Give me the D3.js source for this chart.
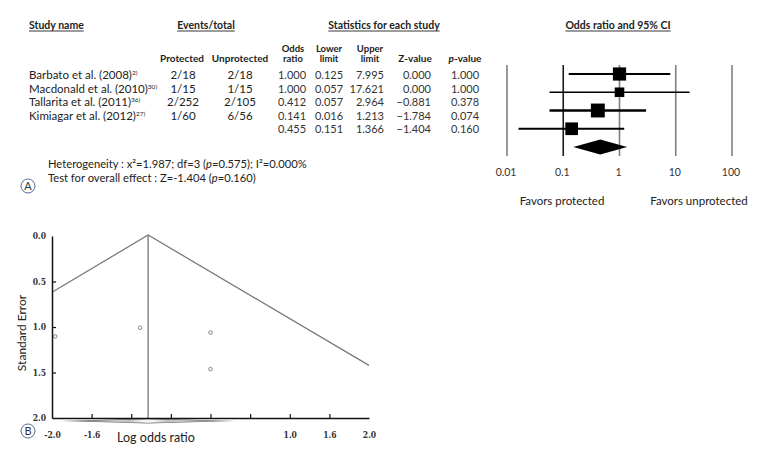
<!DOCTYPE html>
<html><head><meta charset="utf-8">
<script src="https://cdn.jsdelivr.net/npm/d3@7"></script>
<style>
body{margin:0;background:#fff;}
svg{display:block;font-family:Lato,"Open Sans",sans-serif;}
</style></head>
<body><svg id="c" width="774" height="462"></svg>
<script>
// ---- data ----
const studies = ["Barbato et al. (2008)", "Macdonald et al. (2010)", "Tallarita et al. (2011)", "Kimiagar et al. (2012)"];
const refs = ["2)", "30)", "36)", "27)"];
const eventsProtected = ["2/18", "1/15", "2/252", "1/60"];
const eventsUnprotected = ["2/18", "1/15", "2/105", "6/56"];
const oddsRatio = [1.000, 1.000, 0.412, 0.141];
const lowerLimit = [0.125, 0.057, 0.057, 0.016];
const upperLimit = [7.995, 17.621, 2.964, 1.213];
const zValue = [0.000, 0.000, -0.881, -1.784];
const pValue = [1.000, 1.000, 0.378, 0.074];
const summary = {or: 0.455, lower: 0.151, upper: 1.366, z: -1.404, p: 0.160};
const orTicks = [0.01, 0.1, 1, 10, 100];
const orTickLabels = ["0.01", "0.1", "1", "10", "100"];
const seTicks = [0, 0.5, 1.0, 1.5, 2.0];
const seTickLabels = ["0.0", "0.5", "1.0", "1.5", "2.0"];
const logTicks = [-2, -1.5, -1, -0.5, 0, 0.5, 1, 1.5, 2];
const logTickLabels = ["-2.0", "-1.6", "", "", "", "", "1.0", "1.6", "2.0"];

const svg = d3.select("#c");
const f3 = d3.format(".3f");
const txt = (x, y, s, opt = {}) => svg.append("text").attr("x", x).attr("y", y)
  .attr("text-anchor", opt.anchor || "start").attr("font-size", opt.size || 11)
  .attr("font-weight", opt.weight || "normal").attr("fill", opt.fill || "#222").text(s);

function header(x, y, s) {
  const t = txt(x, y, s, {anchor: "middle", weight: "bold", size: 10.5});
  const w = t.node().getComputedTextLength();
  svg.append("line").attr("x1", x - w / 2).attr("x2", x + w / 2).attr("y1", y + 2).attr("y2", y + 2)
    .attr("stroke", "#222").attr("stroke-width", 0.9);
}
// ---- table headers ----
{
  const t = txt(29, 29, "Study name", {weight: "bold", size: 10.5});
  const w = t.node().getComputedTextLength();
  svg.append("line").attr("x1", 29).attr("x2", 29 + w).attr("y1", 31).attr("y2", 31).attr("stroke", "#222").attr("stroke-width", 0.9);
}
header(206, 29, "Events/total");
header(384, 29, "Statistics for each study");
header(618, 29, "Odds ratio and 95% CI");

const hb = {weight: "bold", size: 10, anchor: "middle"};
const hb2 = {weight: "bold", size: 9.5, anchor: "middle"};
txt(182, 62, "Protected", hb);
txt(240, 62, "Unprotected", hb);
txt(293, 52, "Odds", hb2); txt(293, 62, "ratio", hb2);
txt(329, 52, "Lower", hb2); txt(329, 62, "limit", hb2);
txt(370, 52, "Upper", hb2); txt(370, 62, "limit", hb2);
txt(415, 62, "Z-value", hb);
{
  const t = svg.append("text").attr("x", 465).attr("y", 62).attr("text-anchor", "middle")
    .attr("font-size", 10).attr("font-weight", "bold").attr("fill", "#222");
  t.append("tspan").attr("font-style", "italic").text("p");
  t.append("tspan").text("-value");
}

// ---- table rows ----
const rowY = d3.scaleLinear().domain([0, 4]).range([79, 133]);
studies.forEach((s, i) => {
  const t = svg.append("text").attr("x", 29).attr("y", rowY(i)).attr("font-size", 11.5).attr("fill", "#222");
  t.append("tspan").text(s);
  t.append("tspan").attr("font-size", 6.5).attr("dy", -4).text(refs[i]);
  txt(183, rowY(i), eventsProtected[i], {anchor: "middle", size: 11.5});
  txt(240, rowY(i), eventsUnprotected[i], {anchor: "middle", size: 11.5});
});
const statRows = oddsRatio.map((d, i) => ({or: d, lower: lowerLimit[i], upper: upperLimit[i], z: zValue[i], p: pValue[i]}));
statRows.push(summary);
statRows.forEach((r, i) => {
  const y = rowY(i);
  const o = {size: 11, fill: "#333"};
  txt(292, y, f3(r.or), {...o, anchor: "middle"});
  txt(329, y, f3(r.lower), {...o, anchor: "middle"});
  txt(384, y, f3(r.upper), {...o, anchor: "end"});
  txt(431, y, f3(r.z), {...o, anchor: "end"});
  txt(465, y, f3(r.p), {...o, anchor: "middle"});
});

// ---- forest plot ----
const xOR = d3.scaleLog().domain([0.01, 100]).range([507, 732]);
const fy = d3.scaleLinear().domain([0, 4]).range([74, 147]);
orTicks.forEach((v, i) => {
  svg.append("line").attr("x1", xOR(v)).attr("x2", xOR(v)).attr("y1", 65).attr("y2", 156)
    .attr("stroke", v === 0.1 ? "#1a1a1a" : "#808080").attr("stroke-width", 1.6);
  txt(xOR(v) - 1, 176, orTickLabels[i], {anchor: "middle", size: 10.5, fill: "#333"});
});
const se = oddsRatio.map((d, i) => (Math.log(upperLimit[i]) - Math.log(lowerLimit[i])) / 3.92);
const wts = se.map(s => 1 / (s * s));
statRows.slice(0, 4).forEach((r, i) => {
  const y = fy(i);
  svg.append("line").attr("x1", xOR(r.lower)).attr("x2", xOR(r.upper)).attr("y1", y).attr("y2", y)
    .attr("stroke", "#000").attr("stroke-width", 1 + wts[i] * 1.4);
  const sz = Math.sqrt(wts[i]) * 14;
  svg.append("rect").attr("x", xOR(r.or) - sz / 2).attr("y", y - sz / 2).attr("width", sz).attr("height", sz).attr("fill", "#000");
});
{
  const y = fy(4);
  svg.append("path").attr("d", `M${xOR(summary.lower)},${y}L${xOR(summary.or)},${y - 7.5}L${xOR(summary.upper)},${y}L${xOR(summary.or)},${y + 7.5}Z`).attr("fill", "#000");
}
txt(562, 205, "Favors protected", {anchor: "middle", size: 11.5});
txt(699, 205, "Favors unprotected", {anchor: "middle", size: 11.5});

// ---- heterogeneity text ----
{
  const t = svg.append("text").attr("x", 48).attr("y", 168).attr("font-size", 11.2).attr("fill", "#222");
  t.append("tspan").text("Heterogeneity : x²=1.987; df=3 (");
  t.append("tspan").attr("font-style", "italic").text("p");
  t.append("tspan").text("=0.575); I²=0.000%");
  const t2 = svg.append("text").attr("x", 48).attr("y", 182).attr("font-size", 11.2).attr("fill", "#222");
  t2.append("tspan").text("Test for overall effect : Z=-1.404 (");
  t2.append("tspan").attr("font-style", "italic").text("p");
  t2.append("tspan").text("=0.160)");
}
function badge(x, y, s) {
  svg.append("circle").attr("cx", x).attr("cy", y).attr("r", 7).attr("fill", "none").attr("stroke", "#3d5a86").attr("stroke-width", 0.9);
  txt(x, y + 4, s, {anchor: "middle", size: 11, fill: "#333"});
}
badge(28, 186, "A");
badge(28, 431, "B");

// ---- funnel plot ----
const xL = d3.scaleLinear().domain([-2, 2]).range([52, 369]);
const ySE = d3.scaleLinear().domain([0, 2]).range([236, 418]);
const mean = Math.log(summary.or);
// summary diamond under axis
svg.append("path").attr("d", `M${xL(Math.log(summary.lower))},421L${xL(mean)},418.5L${xL(Math.log(summary.upper))},421L${xL(mean)},423.5Z`).attr("fill", "#6f6f6f");
svg.append("path").attr("d", `M${xL(Math.log(summary.lower)) + 25},421L${xL(mean)},419L${xL(Math.log(summary.upper)) - 22},421L${xL(mean)},423Z`).attr("fill", "#c4c4c4");
svg.append("path").attr("d", `M${xL(mean) - 18},421L${xL(mean)},419.6L${xL(mean) + 18},421L${xL(mean)},422.4Z`).attr("fill", "#f4f4f4");
// funnel
const maxSeLeft = (mean - (-2)) / 1.96;
const maxSeRight = (2 - mean) / 1.96;
svg.append("path").attr("d", `M${xL(-2)},${ySE(maxSeLeft)}L${xL(mean)},${ySE(0) - 1}L${xL(2)},${ySE(maxSeRight)}`)
  .attr("fill", "none").attr("stroke", "#7a7a7a").attr("stroke-width", 1.3);
svg.append("line").attr("x1", xL(mean)).attr("x2", xL(mean)).attr("y1", ySE(0) - 1).attr("y2", ySE(2)).attr("stroke", "#6a6a6a").attr("stroke-width", 1.2);
// points
oddsRatio.forEach((d, i) => {
  svg.append("circle").attr("cx", xL(Math.log(d))).attr("cy", ySE(se[i])).attr("r", 1.8)
    .attr("fill", "none").attr("stroke", "#777").attr("stroke-width", 0.9);
});
// axes
const yAx = svg.append("g").attr("transform", "translate(52,0)")
  .call(d3.axisLeft(ySE).tickValues(seTicks).tickFormat((d, i) => seTickLabels[i]).tickSize(-4).tickSizeOuter(0).tickPadding(6));
const xAx = svg.append("g").attr("transform", "translate(0,418)")
  .call(d3.axisBottom(xL).tickValues(logTicks).tickFormat((d, i) => logTickLabels[i]).tickSize(-4).tickSizeOuter(0).tickPadding(14));
[yAx, xAx].forEach(g => {
  g.select(".domain").attr("stroke", "#111").attr("stroke-width", 1.5);
  g.selectAll(".tick line").attr("stroke", "#111").attr("stroke-width", 1.2);
  g.selectAll(".tick text").attr("font-size", 8.5).attr("font-weight", "bold").attr("fill", "#333").attr("font-family", "'DejaVu Serif Condensed',serif");
});
yAx.selectAll(".tick line").filter(d => d === 0 || d === 2).remove();
xAx.selectAll(".tick line").filter(d => d === -2 || d === 2).remove();
svg.append("text").attr("transform", "translate(26,333) rotate(-90)").attr("text-anchor", "middle")
  .attr("font-size", 12).attr("fill", "#222").text("Standard Error");
txt(156, 442, "Log odds ratio", {anchor: "middle", size: 12.5});
</script></body></html>
